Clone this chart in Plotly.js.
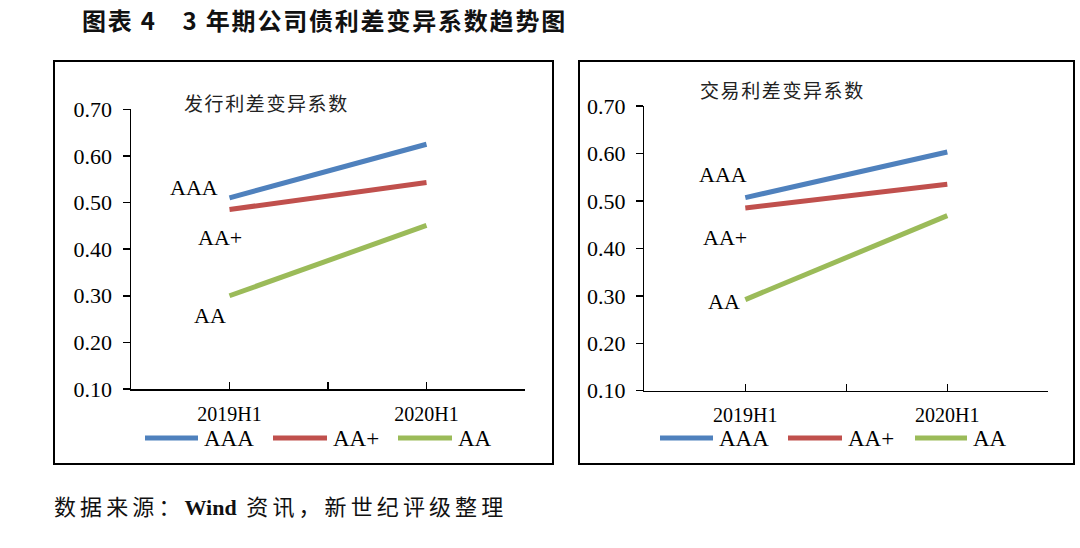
<!DOCTYPE html>
<html>
<head>
<meta charset="utf-8">
<script src="https://cdn.plot.ly/plotly-3.0.1.min.js"></script>
<style>
html,body{margin:0;padding:0;background:#fff;}
#chart{width:1080px;height:548px;}
</style>
</head>
<body>
<div id="chart"></div>
<script>
// ---- data ----
const categories = ['2019H1', '2020H1'];
const seriesNames = ['AAA', 'AA+', 'AA'];
const seriesColors = ['#4F81BD', '#C0504D', '#9BBB59'];
const issueAAA = [0.510, 0.625];
const issueAAplus = [0.485, 0.543];
const issueAA = [0.300, 0.451];
const tradeAAA = [0.507, 0.603];
const tradeAAplus = [0.485, 0.535];
const tradeAA = [0.292, 0.469];
const yTickValues = [0.10, 0.20, 0.30, 0.40, 0.50, 0.60, 0.70];
const panelTitles = ['发行利差变异系数', '交易利差变异系数'];
const chartTitle = '图表 4　3 年期公司债利差变异系数趋势图';
const sourceParts = ['数据来源：', 'Wind', ' 资讯，新世纪评级整理'];

// ---- helpers ----
const W = 1080, H = 548;
const px = x => x / W;
const py = y => 1 - y / H;
const SERIF = 'Liberation Serif, Times New Roman, serif';
const CJK = 'Noto Sans CJK SC, sans-serif';
const spaced = (t, s) => '<span style="letter-spacing:' + s + 'px">' + t + '</span>';

const panels = [
  {
    values: [issueAAA, issueAAplus, issueAA],
    xd: [131, 525], yd: [109.3, 389],
    box: [54, 553, 61, 464],
    titlePos: [182, 102],
    labels: [[193.5, 187], [219.5, 238], [210, 315]],
    legend: [[145, 198], [273, 327], [398, 452]]
  },
  {
    values: [tradeAAA, tradeAAplus, tradeAA],
    xd: [644.3, 1048.3], yd: [106, 390.7],
    box: [579, 1074, 61, 464],
    titlePos: [698, 90],
    labels: [[723, 175], [725, 237], [724, 301]],
    legend: [[660, 713], [788, 842], [915, 967]]
  }
];

const traces = [];
const shapes = [];
const annotations = [];
const layout = {
  width: W, height: H,
  margin: {l: 0, r: 0, t: 0, b: 0},
  paper_bgcolor: '#fff', plot_bgcolor: 'rgba(0,0,0,0)',
  showlegend: false,
  font: {family: SERIF, color: '#000'}
};

// title and source
annotations.push({
  text: spaced(chartTitle, 1.8), xref: 'paper', yref: 'paper', x: px(80), y: py(20),
  xanchor: 'left', yanchor: 'middle', showarrow: false,
  font: {family: CJK, size: 24, color: '#111', weight: 'bold'}
});
annotations.push({
  text: spaced(sourceParts[0], 4.1) + '<b>' + sourceParts[1] + '</b>' + spaced(sourceParts[2], 4.1),
  xref: 'paper', yref: 'paper', x: px(52), y: py(507),
  xanchor: 'left', yanchor: 'middle', showarrow: false,
  font: {family: 'Liberation Serif, Noto Sans CJK SC, serif', size: 22, color: '#111'}
});

panels.forEach((p, i) => {
  const sfx = i === 0 ? '' : '2';
  const xa = 'xaxis' + sfx, ya = 'yaxis' + sfx;
  layout[xa] = {
    domain: [px(p.xd[0]), px(p.xd[1])],
    anchor: 'y' + sfx,
    range: [-0.5, categories.length - 0.5],
    tickmode: 'array',
    tickvals: [0, 0.5, 1, 1.5],
    ticktext: [categories[0], '', categories[1], ''],
    ticks: 'inside', ticklen: 7, tickwidth: 1.5, tickcolor: '#000',
    ticklabelstandoff: 6,
    showline: true, linecolor: '#000', linewidth: 1.5,
    showgrid: false, zeroline: false,
    tickfont: {family: SERIF, size: 20, color: '#000'}
  };
  layout[ya] = {
    domain: [py(p.yd[1]), py(p.yd[0])],
    anchor: 'x' + sfx,
    range: [0.1, 0.7],
    tickmode: 'array', tickvals: yTickValues, tickformat: '.2f',
    ticks: 'outside', ticklen: 7, tickwidth: 1.5, tickcolor: '#000',
    ticklabelstandoff: 6,
    showline: true, linecolor: '#000', linewidth: 1.5,
    showgrid: false, zeroline: false,
    tickfont: {family: SERIF, size: 22, color: '#000'}
  };
  seriesNames.forEach((name, s) => {
    traces.push({
      type: 'scatter', mode: 'lines', name: name,
      x: categories.map((c, k) => k),
      y: p.values[s],
      text: categories,
      xaxis: 'x' + sfx, yaxis: 'y' + sfx,
      line: {color: seriesColors[s], width: 5},
      hovertemplate: '%{text}: %{y:.2f}<extra>' + name + '</extra>'
    });
    // series label
    annotations.push({
      text: name, xref: 'paper', yref: 'paper',
      x: px(p.labels[s][0]), y: py(p.labels[s][1]),
      xanchor: 'center', yanchor: 'middle', showarrow: false,
      font: {family: SERIF, size: 22, color: '#000'}
    });
    // legend sample + label
    shapes.push({
      type: 'line', xref: 'paper', yref: 'paper',
      x0: px(p.legend[s][0]), x1: px(p.legend[s][1]), y0: py(438), y1: py(438),
      line: {color: seriesColors[s], width: 5}
    });
    annotations.push({
      text: name, xref: 'paper', yref: 'paper',
      x: px(p.legend[s][1] + 4), y: py(438),
      xanchor: 'left', yanchor: 'middle', showarrow: false,
      font: {family: SERIF, size: 23, color: '#000'}
    });
  });
  // panel subtitle
  annotations.push({
    text: spaced(panelTitles[i], 1.6), xref: 'paper', yref: 'paper',
    x: px(p.titlePos[0]), y: py(p.titlePos[1]),
    xanchor: 'left', yanchor: 'middle', showarrow: false,
    font: {family: CJK, size: 19, color: '#222'}
  });
  // frame
  shapes.push({
    type: 'rect', xref: 'paper', yref: 'paper',
    x0: px(p.box[0]), x1: px(p.box[1]), y0: py(p.box[3]), y1: py(p.box[2]),
    line: {color: '#000', width: 2}, fillcolor: 'rgba(0,0,0,0)', layer: 'below'
  });
});

layout.shapes = shapes;
layout.annotations = annotations;

Plotly.newPlot('chart', traces, layout, {staticPlot: true});
</script>
</body>
</html>
